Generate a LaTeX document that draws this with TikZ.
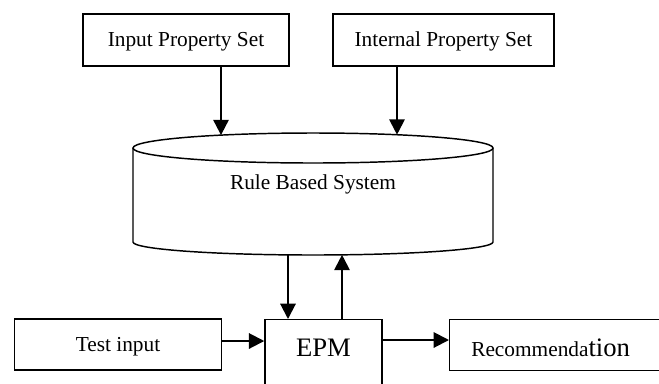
\documentclass[tikz,border=0pt]{standalone}
\usepackage{fontspec}
\setmainfont{Liberation Serif}
\usetikzlibrary{arrows.meta,calc}
\begin{document}
\begin{tikzpicture}[x=0.75pt,y=-0.75pt,
  box/.style={draw,line width=1.1pt,inner sep=0pt,text height=10.2pt,text depth=0pt,font=\fontsize{16}{19}\selectfont},
  arr/.style={line width=1.5pt,-{Triangle[length=11.5pt,width=11.5pt]}},
  cyl/.style={line width=1.1pt}]
\useasboundingbox (0,0) rectangle (659,383);
\clip (0,0) rectangle (659,383);
% top boxes
\node[box,minimum width=154.5pt,minimum height=39pt] (ips) at (186,40) {Input Property Set};
\node[box,minimum width=165.75pt,minimum height=39pt] (ints) at (443.5,40) {Internal Property Set};
% cylinder
\draw[cyl] (313,148) ellipse [x radius=180, y radius=15];
\draw[cyl] (133,148) -- (133,242) arc[start angle=180, end angle=0, x radius=180, y radius=13] -- (493,148);
\node[font=\fontsize{16}{19}\selectfont,anchor=base] (rbs) at (313,189) {Rule Based System};
\coordinate (cin1) at (221,135.1);
\coordinate (cin2) at (397,134.7);
\coordinate (cout1) at (288,254.8);
\coordinate (cout2) at (342,254.8);
% bottom row
\node[box,minimum width=155.25pt,minimum height=38.25pt] (ti) at (118,344.5) {Test input};
\node[draw,line width=1.1pt,inner sep=0pt,minimum width=87.75pt,minimum height=60pt,anchor=north] (epm) at (323.5,319) {};
\node[font=\fontsize{20}{24}\selectfont,anchor=base,inner sep=0pt] (epmt) at (323.5,356) {EPM};
\node[draw,line width=1.1pt,inner sep=0pt,minimum width=300pt,minimum height=38.25pt,anchor=north west] (rec) at (449,319) {};
\node[anchor=base west,inner sep=0pt] (rect) at (471,356) {{\fontsize{16}{19}\selectfont Recommenda}{\fontsize{20}{24}\selectfont tion}};
\coordinate (ty) at (0,341);
\coordinate (ry) at (0,340);
% connectors
\draw[arr] (ips.south -| cin1) -- (cin1);
\draw[arr] (ints.south -| cin2) -- (cin2);
\draw[arr] (cout1) -- (cout1 |- epm.north);
\draw[arr] (cout2 |- epm.north) -- (cout2);
\draw[arr] (ti.east |- ty) -- (epm.west |- ty);
\draw[arr] (epm.east |- ry) -- (rec.west |- ry);
\end{tikzpicture}
\end{document}
